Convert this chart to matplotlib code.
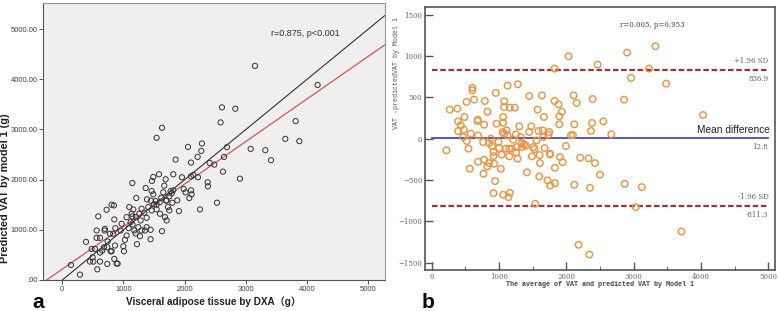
import matplotlib
matplotlib.use("Agg")
import matplotlib.pyplot as plt
import numpy as np

# ---------------- Panel a data ----------------
dxa_vat = [142, 387, 289, 588, 561, 561, 616, 616, 616, 572, 496, 452, 507, 534, 479,
           697, 692, 724, 741, 735, 735, 806, 844, 850, 866, 833, 861, 790, 806, 850,
           904, 888, 997, 1008, 1051, 1084, 1117, 1051, 1144, 1160, 1144, 1177, 1198, 1220, 1269,
           1209, 1204, 1280, 1340, 1351, 1378, 1362, 1384, 1443, 1443, 1449, 1460, 1465, 1487, 1487,
           1525, 1541, 1541, 1580, 1591, 1618, 1629, 1629, 1667, 1689, 1694, 1705, 1749, 1749, 1770,
           1787, 1798, 1814, 1852, 1906, 1955, 1983, 2015, 2054, 2075, 2103, 2103, 2103, 2113, 2141,
           2211, 2217, 2250, 2271, 2282, 2375, 2380, 2408, 2484, 2527, 2587, 2609, 2625, 2642, 2691,
           2827, 2903, 3078, 3148, 3317, 3410, 3644, 3813, 3873, 4172,
           953, 970, 1024, 1095, 1133, 1258, 1296, 1405, 1498, 1705, 1727, 1650, 1541, 1460, 1242,
           1149, 779, 681, 654, 1296, 1378, 1879, 1678, 1596, 1814]
pred_vat = [300, 760, 107, 1267, 987, 840, 840, 547, 367, 213, 453, 367, 367, 620, 620,
            1020, 987, 1400, 767, 653, 320, 1500, 1487, 1207, 1033, 920, 687, 573, 573, 420,
            327, 327, 673, 573, 887, 1033, 1153, 1253, 1933, 1407, 1267, 987, 927, 713, 873,
            1633, 1253, 1187, 1340, 987, 1240, 1833, 1607, 1000, 813, 1580, 1773, 1973, 2053, 1707,
            1573, 1407, 2833, 2107, 1547, 1640, 3033, 973, 1880, 2007, 1580, 1187, 1667, 1387, 1773,
            1727, 1540, 2107, 2400, 1373, 2047, 1813, 1747, 2653, 1633, 2340, 2067, 1787, 1707, 2093,
            2453, 2047, 1407, 2573, 2720, 1947, 1867, 2333, 2300, 1540, 3140, 3440, 2160, 2453, 2647,
            3413, 2020, 2613, 4267, 2587, 2387, 2813, 3167, 2767, 3887,
            987, 1120, 800, 1453, 1320, 1320, 1420, 1453, 1507, 1587, 1453, 1747, 1507, 1387, 1053,
            1107, 920, 653, 587, 987, 1053, 1587, 1253, 1320, 1787]
r_text_a = "r=0.875, p<0.001"
reg_intercept = 217
reg_slope = 0.848
a_yticks = [0, 1000, 2000, 3000, 4000, 5000]
a_ytick_labels = [".00", "1000.00", "2000.00", "3000.00", "4000.00", "5000.00"]
a_xticks = [0, 1000, 2000, 3000, 4000, 5000]

# ---------------- Panel b data ----------------
ba_mean = [218, 268, 382, 392, 392, 432, 476, 486, 466, 521, 546, 516, 565, 580, 605,
           605, 630, 680, 684, 689, 689, 764, 769, 779, 779, 789, 828, 828, 853, 853,
           878, 893, 918, 918, 928, 918, 942, 952, 962, 992, 1002, 1027, 1037, 1052, 1061,
           1061, 1076, 1076, 1061, 1076, 1101, 1111, 1126, 1126, 1141, 1151, 1151, 1161, 1161, 1185,
           1210, 1235, 1250, 1255, 1265, 1280, 1275, 1300, 1324, 1339, 1339, 1374, 1399, 1414, 1448,
           1448, 1478, 1488, 1508, 1528, 1538, 1557, 1572, 1587, 1597, 1602, 1607, 1637, 1647, 1657,
           1667, 1676, 1721, 1736, 1746, 1756, 1761, 1761, 1825, 1830, 1830, 1825, 1885, 1895, 1895,
           1905, 1934, 1944, 1994, 2034, 2068, 2098, 2108, 2118, 2118, 2153, 2182, 2207, 2331, 2341,
           2351, 2366, 2381, 2391, 2425, 2465, 2500, 2549, 2668, 2857, 2867, 2902, 2961, 3031, 3120,
           3229, 3323, 3482, 3710, 4032]
ba_diff = [-141, 352, 364, 210, 93, 162, 109, 263, 20, -28, -121, 445, -364, 61, 618,
           586, 473, 214, 230, 40, -279, -40, -424, -255, 170, 457, 327, -335, -295, -53,
           0, -89, -210, -162, -303, -659, -513, 554, 182, -40, -113, -364, -194, 81, 194,
           263, 453, 61, -679, 384, -121, 101, 643, 40, -707, -121, -214, 376, -655, -121,
           -12, 376, 53, -166, -101, 659, -243, 150, 20, -101, -53, -69, -85, -408, 517,
           81, 150, -214, -101, -125, -788, -20, 352, 93, -457, -198, -295, 525, 101, 20,
           263, -113, -505, 49, 81, -182, -566, -190, 457, -538, -352, 849, 416, 271, 174,
           -222, 327, -283, -89, 998, 40, 44, 525, 174, -558, 432, -1285, -230, -238, -1403,
           -594, 93, 190, 481, -295, 897, -437, 210, 53, 473, -546, 1043, 736, -829, -586,
           849, 1120, 667, -1124, 287]
mean_diff = 12.8
upper_loa = 836.9
lower_loa = -811.3
r_text_b = "r=0.005, p=0.953"
b_yticks = [-1500, -1000, -500, 0, 500, 1000, 1500]
b_xticks = [0, 1000, 2000, 3000, 4000, 5000]
b_xminor = [500, 1500, 2500, 3500, 4500]

fig = plt.figure(figsize=(7.78, 3.11), dpi=100)
fig.patch.set_facecolor("white")
sans = ["Liberation Sans", "Noto Sans CJK SC", "DejaVu Sans"]

# ================= Panel a =================
axa = fig.add_axes([43/778, 31/311, 342/778, 277/311])
axa.set_facecolor("#efefef")
axa.set_xlim(-315, 5273)
axa.set_ylim(0, 5520)
axa.scatter(dxa_vat, pred_vat, s=14, facecolors="none", edgecolors="#333333", linewidths=0.7, zorder=3)
xl = np.array([0, 5273])
axa.plot(xl, xl, color="#333333", lw=0.8, zorder=2)
xr = np.array([-315, 5273])
axa.plot(xr, reg_intercept + reg_slope * xr, color="#d9535a", lw=0.9, zorder=2)
axa.set_yticks(a_yticks)
axa.set_yticklabels(a_ytick_labels)
axa.set_xticks(a_xticks)
axa.tick_params(axis="both", direction="out", length=3, width=0.7, colors="#555555",
                labelsize=5.5, labelcolor="#444444", pad=1)
for lbl in axa.get_xticklabels() + axa.get_yticklabels():
    lbl.set_family(sans)
for sp in ["left", "bottom"]:
    axa.spines[sp].set_color("#555555")
    axa.spines[sp].set_linewidth(0.8)
for sp in ["top", "right"]:
    axa.spines[sp].set_color("#999999")
    axa.spines[sp].set_linewidth(0.8)
axa.text(3965, 4920, r_text_a, fontsize=6.5, color="#333333", ha="center", va="center", family=sans)
axa.set_xlabel("Visceral adipose tissue by DXA（g）", fontsize=7.2, fontweight="bold",
               family=sans, color="#222222", va="center")
axa.xaxis.set_label_coords(0.497, (280 - 302) / 277)
axa.set_ylabel("Predicted VAT by model 1 (g)", fontsize=7.8, fontweight="bold",
               family=sans, color="#222222", va="center")
axa.yaxis.set_label_coords((5 - 43) / 342, 0.33)
fig.text(38/778, 1 - 303/311, "a", fontsize=15, fontweight="bold", ha="center", va="center", family=sans)

# ================= Panel b =================
axb = fig.add_axes([425/778, 41/311, 350/778, 263/311])
axb.set_facecolor("white")
axb.set_xlim(-100, 5100)
axb.set_ylim(-1590, 1595)
axb.scatter(ba_mean, ba_diff, s=22, facecolors="none", edgecolors="#f0903a", linewidths=1.0, zorder=3)
axb.plot([0, 5000], [upper_loa, upper_loa], color="#a83232", lw=1.6, ls=(0, (2.5, 1.2)), zorder=2)
axb.plot([0, 5000], [lower_loa, lower_loa], color="#a83232", lw=1.6, ls=(0, (2.5, 1.2)), zorder=2)
axb.plot([0, 5000], [mean_diff, mean_diff], color="#4a4ab8", lw=1.3, zorder=2)
sfont = ["DejaVu Serif"]
axb.text(5000, upper_loa + 60, "+1.96 SD", fontsize=5, color="#666666", ha="right", va="bottom", family=sfont)
axb.text(5000, upper_loa - 60, f"{upper_loa:.1f}", fontsize=5, color="#666666", ha="right", va="top", family=sfont)
axb.text(5000, lower_loa + 60, "-1.96 SD", fontsize=5, color="#666666", ha="right", va="bottom", family=sfont)
axb.text(5000, lower_loa - 60, f"{lower_loa:.1f}", fontsize=5, color="#666666", ha="right", va="top", family=sfont)
axb.text(5020, mean_diff + 30, "Mean difference", fontsize=7.3, color="#222222", ha="right", va="bottom",
         family=sans)
axb.text(5000, mean_diff - 60, f"{mean_diff:.1f}", fontsize=5, color="#666666", ha="right", va="top", family=sfont)
axb.text(3283, 1374, r_text_b, fontsize=5, color="#444444", ha="center", va="center", family=sfont)
axb.set_yticks(b_yticks)
axb.set_xticks(b_xticks)
axb.set_xticks(b_xminor, minor=True)
axb.tick_params(axis="both", which="major", direction="in", length=6, width=1.0, colors="#555555",
                labelsize=5, labelcolor="#666666", pad=2)
axb.tick_params(axis="x", which="minor", direction="in", length=3, width=0.8, colors="#777777")
for lbl in axb.get_xticklabels() + axb.get_yticklabels():
    lbl.set_family(sfont)
for sp in axb.spines.values():
    sp.set_color("#555555")
    sp.set_linewidth(1.2)
axb.set_xlabel("The average of VAT and predicted VAT by Model 1", fontsize=4.9, fontweight="bold",
               family=["Liberation Mono", "DejaVu Sans Mono"], color="#444444", va="center")
axb.xaxis.set_label_coords(0.5, (270 - 284) / 263)
axb.set_ylabel("VAT -predictedVAT by Model 1", fontsize=4.8, family=["Liberation Mono", "DejaVu Sans Mono"],
               color="#555555", va="center")
axb.yaxis.set_label_coords((396 - 425) / 350, (270 - 73) / 263)
fig.text(428/778, 1 - 303/311, "b", fontsize=15, fontweight="bold", ha="center", va="center", family=sans)

fig.savefig("out.png", dpi=100, facecolor="white")
